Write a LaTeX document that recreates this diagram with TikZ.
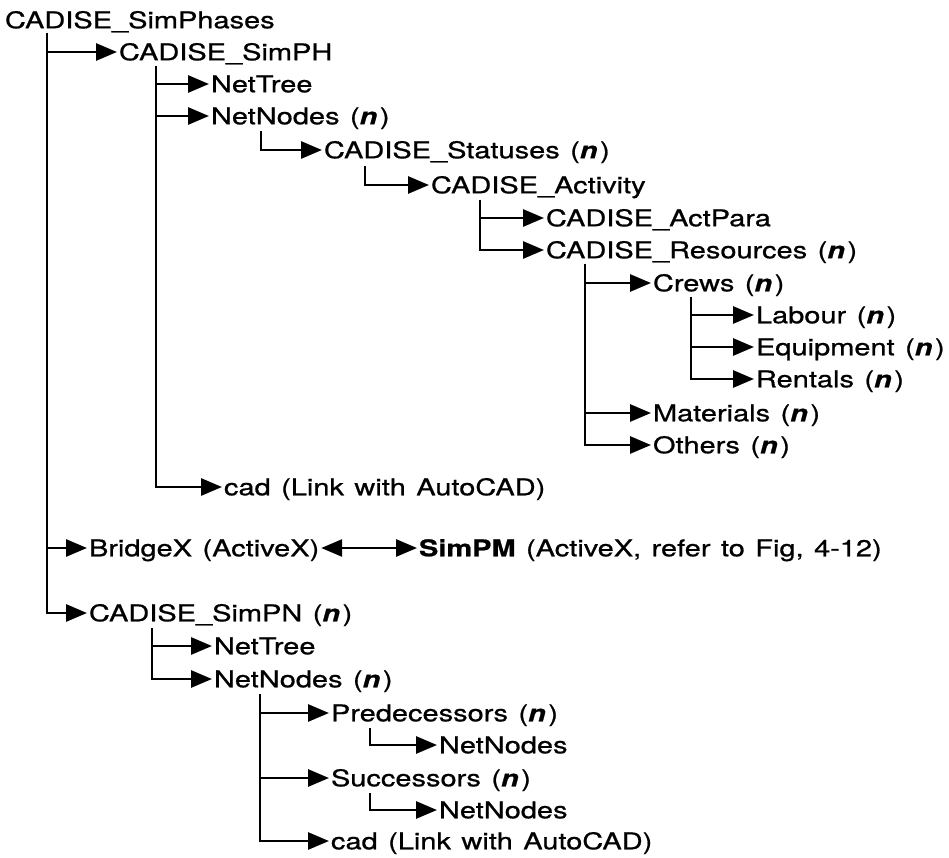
\documentclass[tikz,border=0pt]{standalone}
\usepackage{fontspec}
\setmainfont{TeX Gyre Heros}[FakeStretch=1.26, FakeBold=0.8, WordSpace=1.3]
\usetikzlibrary{arrows.meta}
% multiplicity marker
\newcommand{\nmark}{(\textbf{\textit{n}}\/\kern2.5pt)}
\begin{document}
\begin{tikzpicture}[x=1pt,y=-1pt,
  lbl/.style={anchor=west, inner sep=0pt, outer sep=0pt, text height=16.5pt, text depth=0pt,
    font=\fontsize{23}{27}\selectfont},
  tip/.tip={Triangle[length=21pt,width=17pt]},
  link/.style={line width=2.8pt, -tip, shorten >=2pt},
  dlink/.style={line width=2.8pt, tip-tip, shorten >=2pt, shorten <=2pt}]
\useasboundingbox (0,0) rectangle (949,858);

% labels
\node[lbl] (root)  at (5,20)    {CADISE\_SimPhases};
\node[lbl] (simph) at (119,52)  {CADISE\_SimPH};
\node[lbl] (tree1) at (211,84)  {NetTree};
\node[lbl] (nodes1) at (211,116) {NetNodes \nmark};
\node[lbl] (stat)  at (324,150) {CADISE\_Statuses \nmark};
\node[lbl] (act)   at (431,185) {CADISE\_Activity};
\node[lbl] (para)  at (546,218) {CADISE\_ActPara};
\node[lbl] (res)   at (546,250) {CADISE\_Resources \nmark};
\node[lbl] (crews) at (653,283) {Crews \nmark};
\node[lbl] (lab)   at (756,315) {Labour \nmark};
\node[lbl] (equip) at (756,347) {Equipment \nmark};
\node[lbl] (rent)  at (756,379) {Rentals \nmark};
\node[lbl] (mat)   at (653,413) {Materials \nmark};
\node[lbl] (oth)   at (653,445) {Others \nmark};
\node[lbl] (cad1)  at (224,487) {cad (Link with AutoCAD)};
\node[lbl] (bridge) at (89,548) {BridgeX (ActiveX)};
\node[lbl] (simpm) at (419,548) {\textbf{SimPM} (ActiveX, refer to Fig, 4-12)};
\node[lbl] (simpn) at (89,613)  {CADISE\_SimPN \nmark};
\node[lbl] (tree2) at (214,646) {NetTree};
\node[lbl] (nodes2) at (214,679) {NetNodes \nmark};
\node[lbl] (pred)  at (331,713) {Predecessors \nmark};
\node[lbl] (pnn)   at (439,745) {NetNodes};
\node[lbl] (succ)  at (331,778) {Successors \nmark};
\node[lbl] (snn)   at (439,810) {NetNodes};
\node[lbl] (cad2)  at (331,841) {cad (Link with AutoCAD)};

% trunk tops
\coordinate (t-root)  at (47,33);
\coordinate (t-simph) at (156,66);
\coordinate (t-nodes1) at (261,131);
\coordinate (t-stat)  at (365,166);
\coordinate (t-act)   at (480,200);
\coordinate (t-res)   at (585,264);
\coordinate (t-crews) at (691,297);
\coordinate (t-simpn) at (152,628);
\coordinate (t-nodes2) at (260,694);
\coordinate (t-pred)  at (370,728);
\coordinate (t-succ)  at (370,793);

% connectors
\foreach \c in {simph,bridge,simpn} \draw[link] (t-root) |- (\c.west);
\foreach \c in {tree1,nodes1,cad1} \draw[link] (t-simph) |- (\c.west);
\draw[link] (t-nodes1) |- (stat.west);
\draw[link] (t-stat) |- (act.west);
\foreach \c in {para,res} \draw[link] (t-act) |- (\c.west);
\foreach \c in {crews,mat,oth} \draw[link] (t-res) |- (\c.west);
\foreach \c in {lab,equip,rent} \draw[link] (t-crews) |- (\c.west);
\foreach \c in {tree2,nodes2} \draw[link] (t-simpn) |- (\c.west);
\foreach \c in {pred,succ,cad2} \draw[link] (t-nodes2) |- (\c.west);
\draw[link] (t-pred) |- (pnn.west);
\draw[link] (t-succ) |- (snn.west);
\draw[dlink] (bridge.east) -- (simpm.west);
\end{tikzpicture}
\end{document}
